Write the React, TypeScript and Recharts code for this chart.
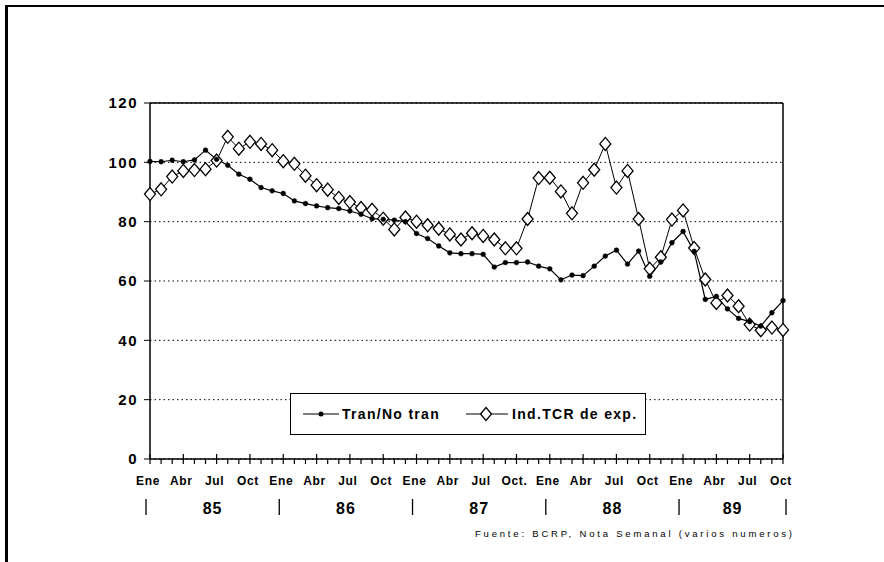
import React from "react";
import { LineChart, Line, XAxis, YAxis, CartesianGrid, ReferenceLine } from "recharts";

const MONTHS = ["Ene", "Feb", "Mar", "Abr", "May", "Jun", "Jul", "Ago", "Set", "Oct", "Nov", "Dic"];
const YEARS = ["85", "86", "87", "88", "89"];
// labels shown every quarter (Ene 85 .. Oct 89)
const QUARTER_LABELS = [
  "Ene", "Abr", "Jul", "Oct", "Ene", "Abr", "Jul", "Oct", "Ene", "Abr",
  "Jul", "Oct.", "Ene", "Abr", "Jul", "Oct", "Ene", "Abr", "Jul", "Oct",
];
const Y_TICKS = [0, 20, 40, 60, 80, 100, 120];

const TRAN_NO_TRAN = [
  100.3, 100.2, 100.7, 100.2, 100.8, 104.1, 101, 99, 96, 94.3,
  91.5, 90.4, 89.5, 87, 86.1, 85.3, 84.7, 84.4, 83.6, 82.5,
  81, 80.8, 80.5, 80, 76, 74.3, 71.8, 69.5, 69.2, 69.2,
  69, 64.7, 66.2, 66.2, 66.4, 65, 64.1, 60.4, 62, 61.8,
  65, 68.4, 70.4, 65.7, 70.1, 61.6, 66.4, 72.9, 76.7, 70,
  53.8, 54.8, 50.6, 47.4, 46.3, 44.8, 49.3, 53.4,
];
const IND_TCR = [
  89.3, 90.9, 95.2, 97.1, 97.4, 97.7, 100.6, 108.6, 104.6, 106.9,
  106.2, 104.1, 100.4, 99.5, 95.5, 92.3, 90.8, 88, 86.6, 84.6,
  84, 81, 77.4, 81.4, 80, 78.8, 77.6, 75.7, 74, 76.1,
  75.2, 74, 71, 71, 80.9, 94.7, 94.8, 90.2, 82.8, 93.1,
  97.5, 106.2, 91.5, 97.1, 80.9, 64.1, 68, 80.7, 83.8, 71.1,
  60.5, 52.6, 55.1, 51.5, 45.3, 43.4, 44.3, 43.5,
];

const N = TRAN_NO_TRAN.length;
const data = TRAN_NO_TRAN.map((v, i) => ({
  mes: `${MONTHS[i % 12]} ${YEARS[Math.floor(i / 12)]}`,
  tran: v,
  tcr: IND_TCR[i],
}));

const FONT = "'Liberation Sans', Arial, sans-serif";
const PLOT_LEFT = 150;
const PLOT_RIGHT = 783;
const STEP = (PLOT_RIGHT - PLOT_LEFT) / (N - 1);

function MonthTick(props: any) {
  const { x, y, payload } = props;
  const i = payload.index;
  const quarter = i % 3 === 0;
  const parts: React.ReactNode[] = [];
  parts.push(<line key="t" x1={x} x2={x} y1={quarter ? y - 5 : y} y2={y + 5} stroke="#000" strokeWidth={1.2} />);
  if (quarter) {
    parts.push(
      <text key="l" x={x - 2} y={y + 26} textAnchor="middle" fontFamily={FONT} fontWeight="bold" fontSize={12} letterSpacing={0.6} fill="#000">
        {QUARTER_LABELS[i / 3]}
      </text>
    );
  }
  if (i % 12 === 0) {
    const start = x - 4;
    const end = Math.min(x + 12 * STEP - 4, PLOT_RIGHT + 3);
    parts.push(<line key="s" x1={start} x2={start} y1={y + 40} y2={y + 56} stroke="#000" strokeWidth={1.3} />);
    parts.push(
      <text key="y" x={(start + end) / 2} y={y + 55} textAnchor="middle" fontFamily={FONT} fontWeight="bold" fontSize={16} letterSpacing={1} fill="#000">
        {YEARS[i / 12]}
      </text>
    );
  }
  if (i === N - 1) {
    parts.push(<line key="e" x1={x + 3} x2={x + 3} y1={y + 40} y2={y + 56} stroke="#000" strokeWidth={1.3} />);
  }
  return <g>{parts}</g>;
}

function DiamondDot(props: any) {
  const { cx, cy, index } = props;
  return (
    <path
      key={`d-${index}`}
      d={`M${cx},${cy - 6.5}L${cx + 5.5},${cy}L${cx},${cy + 6.5}L${cx - 5.5},${cy}Z`}
      fill="#fff"
      stroke="#000"
      strokeWidth={1.3}
    />
  );
}

function LegendBox() {
  return (
    <div
      style={{
        position: "absolute", left: 290, top: 393,
        width: 356, height: 42, border: "1px solid #000", background: "#fff",
        display: "flex", alignItems: "center", fontFamily: FONT, fontWeight: "bold",
        fontSize: 14, letterSpacing: 1.3, color: "#000", boxSizing: "border-box", whiteSpace: "nowrap",
      }}
    >
      <svg width={36} height={14} style={{ marginLeft: 12 }}>
        <line x1={0} x2={36} y1={7} y2={7} stroke="#000" strokeWidth={1.2} />
        <circle cx={18} cy={7} r={2.5} fill="#000" />
      </svg>
      <span style={{ marginLeft: 3 }}>Tran/No tran</span>
      <svg width={42} height={16} style={{ marginLeft: 26 }}>
        <line x1={0} x2={42} y1={8} y2={8} stroke="#000" strokeWidth={1.2} />
        <path d="M20,1.5L25.5,8L20,14.5L14.5,8Z" fill="#fff" stroke="#000" strokeWidth={1.3} />
      </svg>
      <span style={{ marginLeft: 4 }}>Ind.TCR de exp.</span>
    </div>
  );
}

export default function App() {
  return (
    <div style={{ position: "absolute", left: 0, top: 0, width: 884, height: 562, background: "#fff", overflow: "hidden" }}>
      <div style={{ position: "absolute", left: 5, top: 5, width: 900, height: 600, borderTop: "2px solid #000", borderLeft: "3px solid #000" }} />
      <LineChart width={884} height={562} data={data} margin={{ top: 103, right: 884 - PLOT_RIGHT, bottom: 33, left: 100 }}>
        <CartesianGrid vertical={false} stroke="#000" strokeDasharray="1.5 3" />
        <XAxis
          dataKey="mes"
          interval={0}
          height={70}
          tickSize={0}
          tickMargin={0}
          tickLine={false}
          axisLine={{ stroke: "#000", strokeWidth: 1.5 }}
          tick={<MonthTick />}
        />
        <YAxis
          domain={[0, 120]}
          ticks={Y_TICKS}
          width={50}
          tickSize={6}
          tickMargin={6}
          axisLine={{ stroke: "#000", strokeWidth: 1.5 }}
          tickLine={{ stroke: "#000" }}
          tick={{ fontFamily: FONT, fontWeight: "bold", fontSize: 15, fill: "#000", letterSpacing: 1.5 }}
        />
        <ReferenceLine y={120} stroke="#000" strokeWidth={1.5} />
        <ReferenceLine x={data[N - 1].mes} stroke="#000" strokeWidth={1.5} />
        <Line dataKey="tcr" name="Ind.TCR de exp." stroke="#000" strokeWidth={1} dot={DiamondDot} isAnimationActive={false} />
        <Line dataKey="tran" name="Tran/No tran" stroke="#000" strokeWidth={1.2} dot={{ r: 2.4, fill: "#000", stroke: "#000", strokeWidth: 0.5 }} isAnimationActive={false} />
      </LineChart>
      <LegendBox />
      <div style={{ position: "absolute", left: 475, top: 528, fontFamily: FONT, fontSize: 9.5, letterSpacing: 2.8, color: "#000", whiteSpace: "nowrap" }}>
        Fuente: BCRP, Nota Semanal (varios numeros)
      </div>
    </div>
  );
}
